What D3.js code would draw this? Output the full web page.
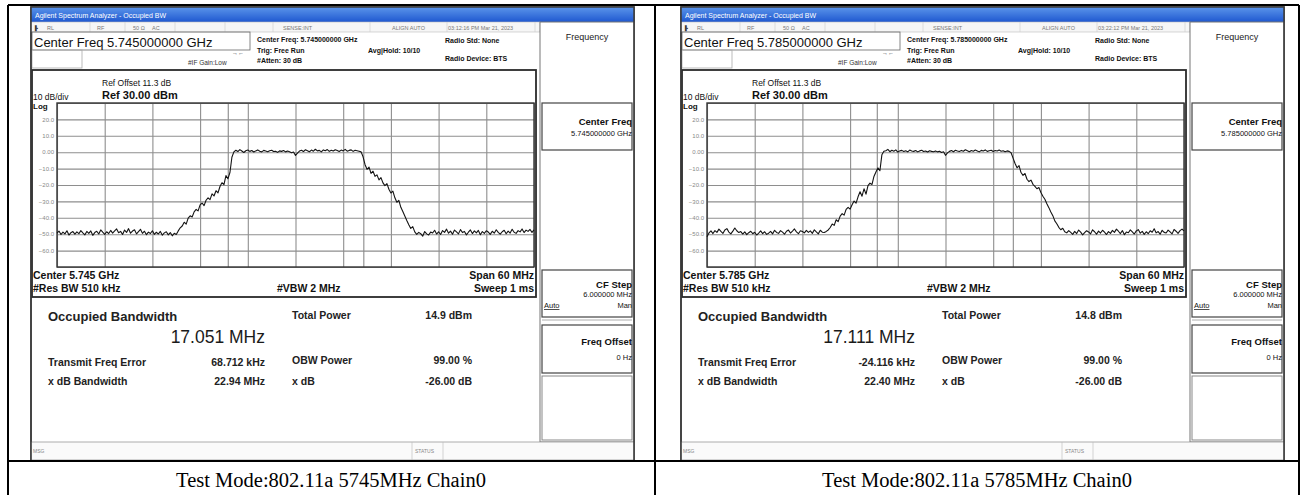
<!DOCTYPE html>
<html>
<head>
<meta charset="utf-8">
<script src="https://cdn.jsdelivr.net/npm/d3@7"></script>
<style>
body { margin: 0; background: #fff; }
svg { display: block; }
.scr text { font-family: "Liberation Sans", Arial, sans-serif; fill: #111; }
.grid line { stroke: #8e8e8e; stroke-width: 1.1; }
.grid path { display: none; }
</style>
</head>
<body>
<svg width="1308" height="495"></svg>
<script>
// sweep bins, offset from center freq in MHz (span 60 MHz)
var freqOffsetMHz = [
  -30, -29.75, -29.5, -29.25, -29, -28.75, -28.5, -28.25, -28, -27.75,
  -27.5, -27.25, -27, -26.75, -26.5, -26.25, -26, -25.75, -25.5, -25.25,
  -25, -24.75, -24.5, -24.25, -24, -23.75, -23.5, -23.25, -23, -22.75,
  -22.5, -22.25, -22, -21.75, -21.5, -21.25, -21, -20.75, -20.5, -20.25,
  -20, -19.75, -19.5, -19.25, -19, -18.75, -18.5, -18.25, -18, -17.75,
  -17.5, -17.25, -17, -16.75, -16.5, -16.25, -16, -15.75, -15.5, -15.25,
  -15, -14.75, -14.5, -14.25, -14, -13.75, -13.5, -13.25, -13, -12.75,
  -12.5, -12.25, -12, -11.75, -11.5, -11.25, -11, -10.75, -10.5, -10.25,
  -10, -9.75, -9.5, -9.25, -9, -8.75, -8.5, -8.25, -8, -7.75,
  -7.5, -7.25, -7, -6.75, -6.5, -6.25, -6, -5.75, -5.5, -5.25,
  -5, -4.75, -4.5, -4.25, -4, -3.75, -3.5, -3.25, -3, -2.75,
  -2.5, -2.25, -2, -1.75, -1.5, -1.25, -1, -0.75, -0.5, -0.25,
  0, 0.25, 0.5, 0.75, 1, 1.25, 1.5, 1.75, 2, 2.25,
  2.5, 2.75, 3, 3.25, 3.5, 3.75, 4, 4.25, 4.5, 4.75,
  5, 5.25, 5.5, 5.75, 6, 6.25, 6.5, 6.75, 7, 7.25,
  7.5, 7.75, 8, 8.25, 8.5, 8.75, 9, 9.25, 9.5, 9.75,
  10, 10.25, 10.5, 10.75, 11, 11.25, 11.5, 11.75, 12, 12.25,
  12.5, 12.75, 13, 13.25, 13.5, 13.75, 14, 14.25, 14.5, 14.75,
  15, 15.25, 15.5, 15.75, 16, 16.25, 16.5, 16.75, 17, 17.25,
  17.5, 17.75, 18, 18.25, 18.5, 18.75, 19, 19.25, 19.5, 19.75,
  20, 20.25, 20.5, 20.75, 21, 21.25, 21.5, 21.75, 22, 22.25,
  22.5, 22.75, 23, 23.25, 23.5, 23.75, 24, 24.25, 24.5, 24.75,
  25, 25.25, 25.5, 25.75, 26, 26.25, 26.5, 26.75, 27, 27.25,
  27.5, 27.75, 28, 28.25, 28.5, 28.75, 29, 29.25, 29.5, 29.75, 30
];

// trace levels in dBm
var trace5745 = [
  -49.3, -48.1, -50.2, -48.7, -49.8, -47.9, -50.5, -49.1, -48.4, -50.0,
  -48.6, -49.7, -47.8, -49.2, -50.4, -48.3, -49.5, -48.0, -50.7, -49.0,
  -48.2, -49.9, -47.4, -48.8, -50.1, -48.5, -49.6, -47.7, -49.3, -48.0,
  -46.8, -49.1, -48.3, -50.2, -47.5, -48.9, -46.6, -49.4, -48.1, -47.3,
  -49.8, -48.4, -47.0, -49.5, -48.2, -50.3, -48.7, -49.6, -47.9, -50.1,
  -48.8, -49.9, -48.3, -50.6, -49.2, -48.5, -50.4, -49.0, -51.0, -49.4,
  -50.2, -48.0, -46.1, -45.0, -42.7, -43.9, -40.2, -38.8, -39.5, -36.4,
  -34.9, -35.8, -32.1, -31.0, -32.6, -29.3, -27.8, -28.9, -25.4, -26.7,
  -23.5, -24.8, -20.9, -18.6, -19.8, -14.3, -16.2, -12.5, -3.1, 0.2,
  1.2, 0.4, 1.6, 0.7, -0.2, 0.9, 1.3, 0.5, 1.0, 0.1,
  0.8, 1.4, 0.6, 0.2, 1.1, 0.7, 0.3, 0.9, 1.2, 0.4,
  0.6, -0.1, 0.8, 0.5, 1.0, 0.2, 0.7, 0.3, -0.3, 0.1,
  -2.0, -0.6, 0.7, 1.2, 0.4, 1.5, 0.9, 0.3, 1.3, 0.6,
  1.8, 0.8, 1.1, 0.2, 1.4, 0.9, 1.6, 0.5, 1.2, 0.7,
  1.5, 1.0, 0.4, 1.3, 0.8, 1.7, 0.6, 1.1, 1.4, 0.5,
  1.2, 0.9, 0.6, 0.2, -2.8, -7.6, -10.4, -9.1, -12.9, -11.6,
  -14.7, -13.8, -16.9, -15.5, -18.7, -20.4, -19.2, -22.6, -24.9, -23.7,
  -27.8, -30.5, -29.4, -33.6, -36.2, -38.9, -41.7, -44.3, -46.5, -45.4,
  -48.6, -50.1, -48.9, -49.7, -51.2, -48.4, -49.8, -50.5, -48.7, -49.3,
  -47.6, -49.9, -48.5, -50.2, -47.8, -48.9, -46.9, -49.4, -48.1, -50.0,
  -47.5, -48.6, -49.8, -47.2, -49.0, -48.3, -50.4, -48.8, -47.4, -49.6,
  -48.0, -49.2, -47.7, -50.3, -48.4, -49.5, -47.9, -48.7, -50.1, -48.2,
  -49.4, -47.3, -48.9, -50.0, -48.5, -47.6, -49.7, -48.1, -49.3, -47.0,
  -48.8, -49.5, -47.8, -48.6, -46.8, -49.0, -47.5, -48.3, -47.1, -48.9, -47.4
];
var trace5785 = [
  -51.5, -49.2, -48.0, -49.6, -47.8, -48.9, -46.9, -48.3, -49.5, -47.4,
  -46.6, -48.7, -49.8, -48.1, -46.2, -47.9, -49.0, -48.4, -49.9, -48.6,
  -50.3, -49.1, -48.2, -49.7, -48.8, -50.5, -49.3, -48.0, -49.6, -48.5,
  -50.1, -49.4, -48.3, -49.8, -47.6, -48.9, -49.5, -47.8, -48.7, -50.0,
  -48.2, -47.5, -49.3, -48.1, -46.8, -48.6, -49.7, -47.9, -48.4, -49.2,
  -47.7, -48.9, -48.0, -49.5, -47.3, -48.6, -49.8, -47.6, -48.8, -49.0,
  -48.3, -47.4, -45.9, -43.8, -44.6, -41.2, -42.3, -39.0, -37.5, -38.4,
  -34.9, -33.6, -34.7, -32.0, -29.8, -31.1, -27.2, -24.1, -26.8, -22.3,
  -25.6, -20.4, -18.9, -19.7, -14.8, -12.1, -9.6, -11.3, -1.5, 0.6,
  0.9, 1.7, 0.3, 1.2, 0.6, 1.4, 0.1, 0.8, 1.1, 0.4,
  0.9, 0.2, 1.3, 0.7, 0.5, 1.0, 0.2, 0.8, 1.2, 0.4,
  0.7, 0.1, 0.9, 0.5, 0.3, 0.8, 0.2, 0.6, -0.2, 0.3,
  -1.9, -0.4, 0.5, 1.0, 0.3, 1.2, 0.7, 0.4, 1.1, 0.6,
  1.5, 0.9, 0.3, 1.0, 0.6, 1.3, 0.8, 0.2, 1.1, 0.7,
  1.4, 0.5, 0.9, 1.2, 0.4, 1.0, 0.7, 1.3, 0.6, 0.9,
  0.3, 0.8, 0.5, -0.3, -3.6, -6.9, -9.5, -8.2, -12.4, -14.1,
  -13.0, -16.5, -17.9, -17.0, -19.6, -20.8, -22.3, -21.5, -24.6, -26.9,
  -28.7, -31.4, -33.8, -36.5, -38.7, -41.9, -43.6, -45.8, -47.3, -46.4,
  -48.5, -49.2, -47.8, -48.9, -50.1, -48.3, -49.6, -47.5, -48.7, -50.4,
  -49.0, -47.9, -48.6, -49.8, -47.3, -48.5, -50.0, -48.1, -49.3, -47.6,
  -48.8, -50.2, -48.4, -49.5, -47.7, -48.9, -46.9, -48.2, -49.6, -47.8,
  -50.3, -48.7, -49.1, -47.4, -48.6, -49.9, -48.0, -47.2, -49.4, -48.3,
  -50.1, -48.5, -49.7, -47.9, -48.8, -46.7, -49.2, -48.4, -50.0, -47.6,
  -48.9, -49.3, -47.5, -48.6, -49.8, -47.1, -48.2, -49.5, -47.8, -46.9, -48.0
];

var yLabelDb = [20, 10, 0, -10, -20, -30, -40, -50, -60];
var gridDb = [30, 20, 10, 0, -10, -20, -30, -40, -50, -60, -70];
var gridMHz = [-30, -24, -18, -12, -6, 0, 6, 12, 18, 24, 30];

var captions = ["Test Mode:802.11a 5745MHz Chain0", "Test Mode:802.11a 5785MHz Chain0"];
var centerFreq = ["5.745000000 GHz", "5.785000000 GHz"];
var centerShort = ["5.745 GHz", "5.785 GHz"];
var timeStamp = ["03:12:16 PM Mar 21, 2023", "03:22:12 PM Mar 21, 2023"];
var obwText = ["17.051 MHz", "17.111 MHz"];
var obwMHz = [17.051, 17.111];
var freqErrText = ["68.712 kHz", "-24.116 kHz"];
var freqErrMHz = [0.068712, -0.024116];
var xdbBwText = ["22.94 MHz", "22.40 MHz"];
var totalPowerText = ["14.9 dBm", "14.8 dBm"];

var svg = d3.select("svg");

var defs = svg.append("defs");
var grad = defs.append("linearGradient").attr("id", "titlebar")
    .attr("x1", 0).attr("y1", 0).attr("x2", 0).attr("y2", 1);
grad.append("stop").attr("offset", "0%").attr("stop-color", "#5b95ea");
grad.append("stop").attr("offset", "100%").attr("stop-color", "#1f58d0");

var traces = [trace5745, trace5785];

function txt(g, x, y, s, size, opts) {
    opts = opts || {};
    return g.append("text")
        .attr("x", x).attr("y", y)
        .attr("font-size", size)
        .attr("font-weight", opts.bold ? "bold" : null)
        .attr("text-anchor", opts.anchor || "start")
        .style("fill", opts.fill || null)
        .text(s);
}

function box(g, x0, y0, x1, y1, stroke, sw, fill) {
    return g.append("rect")
        .attr("x", x0).attr("y", y0)
        .attr("width", x1 - x0).attr("height", y1 - y0)
        .attr("fill", fill || "none")
        .attr("stroke", stroke).attr("stroke-width", sw);
}

function drawPanel(i) {
    var g = svg.append("g").attr("class", "scr")
        .attr("transform", "translate(" + (i * 650) + ",0)");

    // screenshot body
    box(g, 31, 7, 634, 461, "#3a3a3a", 1.5, "#fff");
    g.append("rect").attr("x", 31).attr("y", 7).attr("width", 603).attr("height", 15)
        .attr("fill", "url(#titlebar)");
    txt(g, 35, 17.5, "Agilent Spectrum Analyzer - Occupied BW", 7, { fill: "#fff" });

    // status strip
    box(g, 31, 22, 540, 32, "#bbb", 0.6, "#f6f6f6");
    var stat = [["RL", 47], ["RF", 97], ["50 \u03A9", 133], ["AC", 152], ["SENSE:INT", 283], ["ALIGN AUTO", 392]];
    stat.forEach(function(s) { txt(g, s[1], 29.5, s[0], 5.5, { fill: "#777" }); });
    txt(g, 448, 29.5, timeStamp[i], 5.5, { fill: "#777" });
    [90, 125, 175, 225, 273, 370, 447, 535].forEach(function(x) {
        g.append("line").attr("x1", x).attr("x2", x).attr("y1", 22).attr("y2", 32)
            .attr("stroke", "#ccc").attr("stroke-width", 0.6);
    });
    txt(g, 33, 29.5, "\u2590\u25AA", 5, { fill: "#333" });

    // header
    box(g, 32, 32, 250, 50, "#666", 0.8);
    txt(g, 34, 46.5, "Center Freq " + centerFreq[i], 13);
    box(g, 32, 50, 82, 68, "#aaa", 0.8);
    txt(g, 188, 65, "#IF Gain:Low", 6.5, { fill: "#333" });
    txt(g, 232, 55, "\u2192\u2190", 6, { fill: "#333" });
    txt(g, 257, 42, "Center Freq: " + centerFreq[i], 7, { bold: true });
    txt(g, 257, 52.5, "Trig: Free Run", 7, { bold: true });
    txt(g, 257, 62.5, "#Atten: 30 dB", 7, { bold: true });
    txt(g, 368, 52.5, "Avg|Hold: 10/10", 7, { bold: true });
    txt(g, 445, 42.5, "Radio Std: None", 7, { bold: true });
    txt(g, 445, 61, "Radio Device: BTS", 7, { bold: true });

    // softkey column
    box(g, 540, 22, 634, 442, "#777", 1, "#fff");
    txt(g, 587, 40, "Frequency", 9, { anchor: "middle", fill: "#222" });
    box(g, 542, 103, 632, 150, "#444", 1.2);
    txt(g, 632, 125, "Center Freq", 9.5, { bold: true, anchor: "end" });
    txt(g, 632, 136, centerFreq[i], 7.5, { anchor: "end" });
    box(g, 542, 270, 632, 317, "#444", 1.2);
    txt(g, 632, 288, "CF Step", 9.5, { bold: true, anchor: "end" });
    txt(g, 632, 297, "6.000000 MHz", 7.5, { anchor: "end" });
    txt(g, 544, 308, "Auto", 7.5).attr("text-decoration", "underline");
    txt(g, 632, 308, "Man", 7.5, { anchor: "end" });
    g.append("line").attr("x1", 542).attr("x2", 632).attr("y1", 320).attr("y2", 320)
        .attr("stroke", "#999").attr("stroke-width", 0.8);
    box(g, 542, 325, 632, 373, "#444", 1.2);
    txt(g, 632, 345, "Freq Offset", 9.5, { bold: true, anchor: "end" });
    txt(g, 632, 360, "0 Hz", 7.5, { anchor: "end" });
    box(g, 542, 376, 632, 440, "#888", 1);

    // display frame
    box(g, 32, 70, 536, 297, "#2a2a2a", 1.8, "#fff");
    txt(g, 102, 86, "Ref Offset 11.3 dB", 8.5);
    txt(g, 102, 98.5, "Ref 30.00 dBm", 11, { bold: true });
    txt(g, 33, 100, "10 dB/div", 8.5);
    txt(g, 33, 109, "Log", 8, { bold: true });

    var plotL = 57, plotR = 534, plotT = 103, plotB = 267;
    var x = d3.scaleLinear().domain([-30, 30]).range([plotL, plotR]);
    var y = d3.scaleLinear().domain([-70, 30]).range([plotB, plotT]);

    g.append("g").attr("class", "grid")
        .attr("transform", "translate(" + plotL + ",0)")
        .call(d3.axisLeft(y).tickValues(gridDb).tickSize(-(plotR - plotL)).tickFormat(""));
    g.append("g").attr("class", "grid")
        .attr("transform", "translate(0," + plotB + ")")
        .call(d3.axisBottom(x).tickValues(gridMHz).tickSize(-(plotB - plotT)).tickFormat(""));

    // OBW edge markers
    var half = obwMHz[i] / 2, c = freqErrMHz[i];
    [c - half, c + half].forEach(function(f) {
        g.append("line").attr("x1", x(f)).attr("x2", x(f)).attr("y1", plotT).attr("y2", plotB)
            .attr("stroke", "#8a8a8a").attr("stroke-width", 1.1);
    });

    // y labels
    g.selectAll(".ylab").data(yLabelDb).enter().append("text")
        .attr("class", "ylab")
        .attr("x", plotL - 3).attr("y", function(d) { return y(d) + 2.2; })
        .attr("text-anchor", "end").attr("font-size", 6)
        .style("fill", "#888")
        .text(function(d) { return d === 0 ? "0.00" : d3.format(".1f")(d); });

    box(g, plotL, plotT, plotR, plotB, "#333", 1.4);

    var line = d3.line()
        .x(function(d, k) { return x(freqOffsetMHz[k]); })
        .y(function(d) { return y(d); });
    g.append("path").datum(traces[i])
        .attr("d", line)
        .attr("fill", "none").attr("stroke", "#141414").attr("stroke-width", 1.1)
        .attr("stroke-linejoin", "round");

    txt(g, 33, 279, "Center  " + centerShort[i], 10.5, { bold: true });
    txt(g, 33, 291.5, "#Res BW  510 kHz", 10.5, { bold: true });
    txt(g, 277, 291.5, "#VBW  2 MHz", 10.5, { bold: true });
    txt(g, 534, 279, "Span 60 MHz", 10.5, { bold: true, anchor: "end" });
    txt(g, 534, 291.5, "Sweep  1 ms", 10.5, { bold: true, anchor: "end" });

    // measurement results
    txt(g, 48, 320.5, "Occupied Bandwidth", 13, { bold: true, fill: "#222" });
    txt(g, 265, 343, obwText[i], 17.5, { anchor: "end", fill: "#1a1a1a" });
    txt(g, 48, 366, "Transmit Freq Error", 10.5, { bold: true, fill: "#222" });
    txt(g, 265, 366, freqErrText[i], 10.5, { bold: true, anchor: "end", fill: "#222" });
    txt(g, 48, 385, "x dB Bandwidth", 10.5, { bold: true, fill: "#222" });
    txt(g, 265, 385, xdbBwText[i], 10.5, { bold: true, anchor: "end", fill: "#222" });
    txt(g, 292, 319, "Total Power", 10.5, { bold: true, fill: "#222" });
    txt(g, 472, 319, totalPowerText[i], 10.5, { bold: true, anchor: "end", fill: "#222" });
    txt(g, 292, 364, "OBW Power", 10.5, { bold: true, fill: "#222" });
    txt(g, 472, 364, "99.00 %", 10.5, { bold: true, anchor: "end", fill: "#222" });
    txt(g, 292, 385, "x dB", 10.5, { bold: true, fill: "#222" });
    txt(g, 472, 385, "-26.00 dB", 10.5, { bold: true, anchor: "end", fill: "#222" });

    // message bar
    box(g, 31, 442, 634, 460, "#999", 0.8, "#fafafa");
    txt(g, 33, 453, "MSG", 5, { fill: "#888" });
    [412, 443].forEach(function(xx) {
        g.append("line").attr("x1", xx).attr("x2", xx).attr("y1", 442).attr("y2", 460)
            .attr("stroke", "#bbb").attr("stroke-width", 0.6);
    });
    txt(g, 415, 453, "STATUS", 5, { fill: "#888" });
    box(g, 31, 7, 634, 461, "#3a3a3a", 1.5);

    // caption
    svg.append("text")
        .attr("x", 331 + i * 646).attr("y", 487)
        .attr("text-anchor", "middle")
        .attr("font-family", "'Liberation Serif', 'Times New Roman', serif")
        .attr("font-size", 20.5)
        .attr("fill", "#000")
        .text(captions[i]);
}

drawPanel(0);
drawPanel(1);

// table rules
var rules = [
    [8, 5, 1299, 5], [8, 461, 1299, 461],
    [8, 5, 8, 495], [655, 5, 655, 495], [1299, 5, 1299, 495]
];
svg.selectAll(".rule").data(rules).enter().append("line")
    .attr("class", "rule")
    .attr("x1", function(d) { return d[0]; }).attr("y1", function(d) { return d[1]; })
    .attr("x2", function(d) { return d[2]; }).attr("y2", function(d) { return d[3]; })
    .attr("stroke", "#000").attr("stroke-width", 2);
</script>
</body>
</html>
